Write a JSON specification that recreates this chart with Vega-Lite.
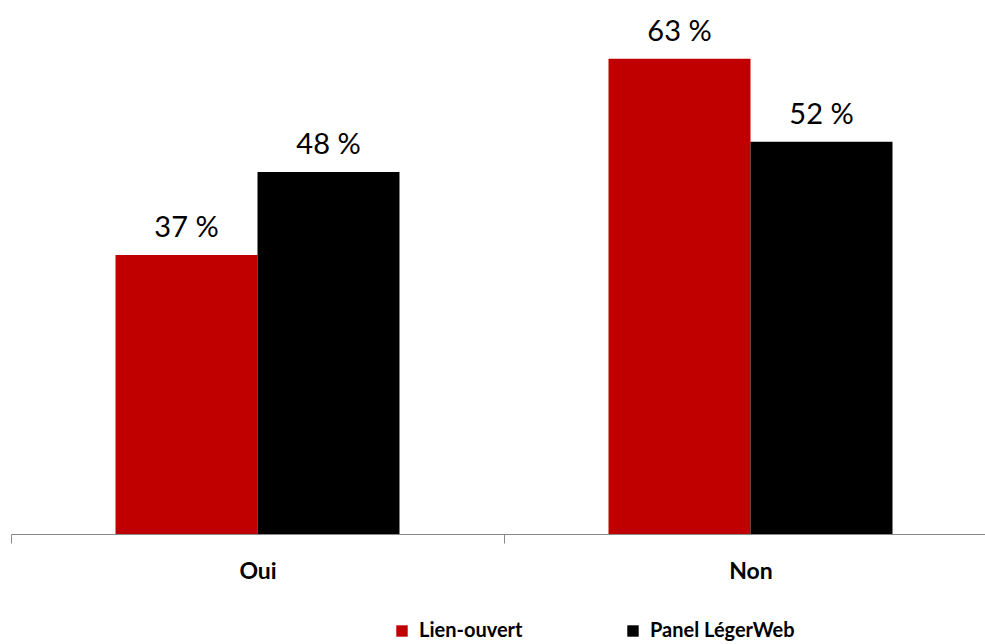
{
  "$schema": "https://vega.github.io/schema/vega-lite/v6.json",
  "width": 974,
  "height": 528,
  "autosize": {"type": "none"},
  "padding": {"left": 11, "top": 6, "right": 0, "bottom": 110},
  "background": "white",
  "config": {
    "view": {"stroke": null},
    "font": "Lato"
  },
  "data": {
    "values": [
      {"reponse": "Oui", "source": "Lien-ouvert", "value": 37},
      {"reponse": "Oui", "source": "Panel LégerWeb", "value": 48},
      {"reponse": "Non", "source": "Lien-ouvert", "value": 63},
      {"reponse": "Non", "source": "Panel LégerWeb", "value": 52}
    ]
  },
  "transform": [
    {"calculate": "datum.value + ' %'", "as": "etiquette"}
  ],
  "encoding": {
    "x": {
      "field": "reponse",
      "type": "nominal",
      "sort": ["Oui", "Non"],
      "scale": {"paddingInner": 0, "paddingOuter": 0, "range": [0, 986]},
      "axis": {
        "title": null,
        "labelAngle": 0,
        "labelFont": "Lato",
        "labelFontSize": 23,
        "labelFontWeight": "bold",
        "labelColor": "#000000",
        "labelPadding": 17,
        "domainColor": "#898989",
        "domainWidth": 1,
        "tickColor": "#898989",
        "tickSize": 9,
        "tickWidth": 1,
        "tickBand": "extent",
        "grid": false
      }
    },
    "xOffset": {
      "field": "source",
      "type": "nominal",
      "sort": ["Lien-ouvert", "Panel LégerWeb"],
      "scale": {"paddingInner": 0, "paddingOuter": 0.736}
    },
    "y": {
      "field": "value",
      "type": "quantitative",
      "scale": {"domain": [0, 70]},
      "axis": null
    }
  },
  "layer": [
    {
      "mark": {"type": "bar"},
      "encoding": {
        "color": {
          "field": "source",
          "type": "nominal",
          "sort": ["Lien-ouvert", "Panel LégerWeb"],
          "scale": {
            "domain": ["Lien-ouvert", "Panel LégerWeb"],
            "range": ["#C00000", "#000000"]
          },
          "legend": {
            "title": null,
            "orient": "none",
            "direction": "horizontal",
            "legendX": 381,
            "legendY": 615,
            "symbolType": "square",
            "symbolSize": 130,
            "symbolStrokeWidth": 0,
            "labelFont": "Lato",
            "labelFontSize": 20,
            "labelFontWeight": "bold",
            "labelColor": "#000000",
            "labelOffset": 7,
            "columnPadding": 100
          }
        }
      }
    },
    {
      "mark": {
        "type": "text",
        "baseline": "alphabetic",
        "dy": -17.7,
        "font": "Lato",
        "fontSize": 29,
        "color": "#000000"
      },
      "encoding": {
        "text": {"field": "etiquette", "type": "nominal"}
      }
    }
  ]
}
